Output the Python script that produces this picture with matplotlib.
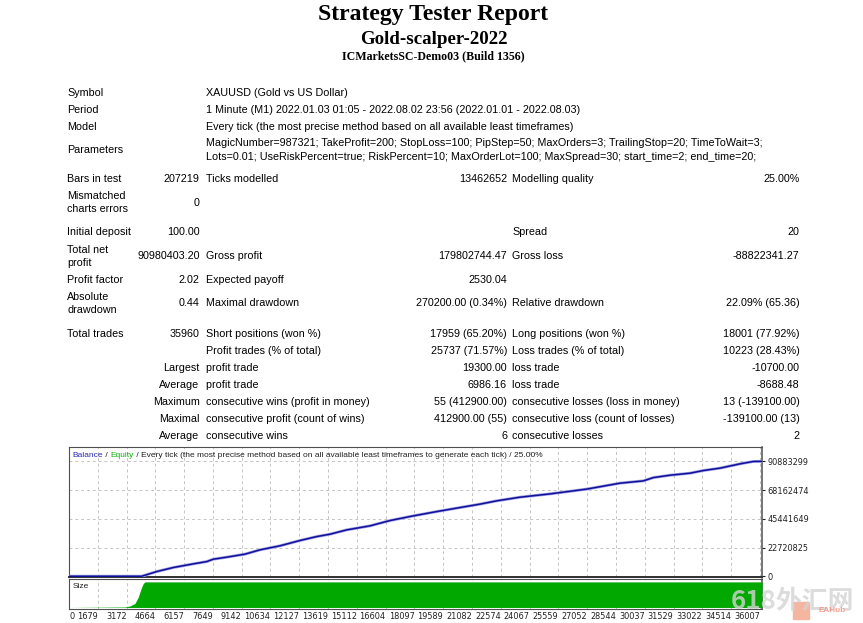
import matplotlib
matplotlib.use("Agg")
import matplotlib.pyplot as plt
from matplotlib.patches import FancyBboxPatch

W, H = 863, 623

# ---------------- data ----------------
title_lines = ["Strategy Tester Report", "Gold-scalper-2022", "ICMarketsSC-Demo03 (Build 1356)"]

info_labels = ["Symbol", "Period", "Model", "Parameters"]
info_values = [
    ["XAUUSD (Gold vs US Dollar)"],
    ["1 Minute (M1) 2022.01.03 01:05 - 2022.08.02 23:56 (2022.01.01 - 2022.08.03)"],
    ["Every tick (the most precise method based on all available least timeframes)"],
    ["MagicNumber=987321; TakeProfit=200; StopLoss=100; PipStep=50; MaxOrders=3; TrailingStop=20; TimeToWait=3;",
     "Lots=0.01; UseRiskPercent=true; RiskPercent=10; MaxOrderLot=100; MaxSpread=30; start_time=2; end_time=20;"],
]

# columns: first label, first value, second label, second value, third label, third value
stat_col0 = ["Bars in test", "Mismatched\ncharts errors", "Initial deposit", "Total net\nprofit",
             "Profit factor", "Absolute\ndrawdown", "Total trades", "", "Largest", "Average",
             "Maximum", "Maximal", "Average"]
stat_val0 = ["207219", "0", "100.00", "90980403.20", "2.02", "0.44", "35960", "", "", "", "", "", ""]
stat_col1 = ["Ticks modelled", "", "", "Gross profit", "Expected payoff", "Maximal drawdown",
             "Short positions (won %)", "Profit trades (% of total)", "profit trade", "profit trade",
             "consecutive wins (profit in money)", "consecutive profit (count of wins)", "consecutive wins"]
stat_val1 = ["13462652", "", "", "179802744.47", "2530.04", "270200.00 (0.34%)", "17959 (65.20%)",
             "25737 (71.57%)", "19300.00", "6986.16", "55 (412900.00)", "412900.00 (55)", "6"]
stat_col2 = ["Modelling quality", "", "Spread", "Gross loss", "", "Relative drawdown",
             "Long positions (won %)", "Loss trades (% of total)", "loss trade", "loss trade",
             "consecutive losses (loss in money)", "consecutive loss (count of losses)", "consecutive losses"]
stat_val2 = ["25.00%", "", "20", "-88822341.27", "", "22.09% (65.36)", "18001 (77.92%)",
             "10223 (28.43%)", "-10700.00", "-8688.48", "13 (-139100.00)", "-139100.00 (13)", "2"]
stat_rows_y = [179, 202.7, 232.5, 256.3, 280, 303.5, 334, 351, 368, 385, 402, 419, 436]

# balance curve (trade number, balance in millions)
balance_trades = [191, 3960, 4738, 5598, 6635, 7330, 7672, 8366, 9315, 10093,
                  11130, 12166, 13032, 13721, 14587, 15795, 16832, 18040, 19253, 20461,
                  21497, 22363, 23571, 25126, 27029, 28755, 29963, 30481, 31347, 32384,
                  33073, 33939, 34976, 35665, 36101]
balance_mln = [0.0001, 0.0001, 3.7, 6.9, 9.8, 11.6, 13.5, 15.1, 17.5, 20.9,
               24.1, 28.3, 31.4, 33.3, 36.7, 39.9, 44.1, 47.8, 51.2, 54.4,
               57.1, 59.7, 62.6, 65.2, 69.0, 73.7, 75.5, 78.1, 80.0, 81.6,
               83.7, 85.6, 89.0, 90.88, 90.98]

# position size (lots)
size_trades = [191, 3094, 3353, 3613, 3784, 3872, 3960, 4043, 4131, 36116]
size_lots = [0.01, 2, 6, 16, 41, 61, 80, 94, 100, 100]

y_ticks = [0, 22720825, 45441649, 68162474, 90883299]
y_tick_labels = ["0", "22720825", "45441649", "68162474", "90883299"]
x_ticks = [1679, 3172, 4664, 6157, 7649, 9142, 10634, 12127, 13619, 15112, 16604, 18097,
           19589, 21082, 22574, 24067, 25559, 27052, 28544, 30037, 31529, 33022, 34514, 36007]
x_tick_labels = [str(v) for v in x_ticks]

legend_parts = [("Balance", "#2a2ab8"), (" / ", "#202020"), ("Equity", "#10b010"),
                (" / Every tick (the most precise method based on all available least timeframes to generate each tick) / 25.00%", "#202020")]

watermark = "618外汇网"
watermark_small = "EAHub"

# ---------------- figure ----------------
fig = plt.figure(figsize=(W / 100, H / 100), dpi=100)
fig.patch.set_facecolor("white")
renderer = fig.canvas.get_renderer()


def fx(x):
    return x / W


def fy(y):
    return 1 - y / H


def fit_size(text, target_w, **kw):
    t = fig.text(0, 0, text, fontsize=10, **kw)
    w = t.get_window_extent(renderer=renderer).width
    t.remove()
    return 10 * target_w / w


SANS = "Liberation Sans"
SERIF = "Liberation Serif"
CJK = ["Noto Sans CJK SC", "DejaVu Sans"]
fs_tab = fit_size(info_values[2][0], 363, family=SANS)
fs_chart = fit_size("".join(p[0] for p in legend_parts), 470, family=SANS)
fs_ticks = fit_size("90883299", 36, family=SANS)
fs_t1 = fit_size(title_lines[0], 232, family=SERIF, weight="bold")
fs_t2 = fit_size(title_lines[1], 148, family=SERIF, weight="bold")
fs_t3 = fit_size(title_lines[2], 183, family=SERIF, weight="bold")
fs_wm = fit_size(watermark, 123, family=CJK, weight="bold")
fs_wm2 = fit_size(watermark_small, 27, family=SANS, weight="bold")

# titles
for s, yy, fs in zip(title_lines, [14.8, 39.5, 56.7], [fs_t1, fs_t2, fs_t3]):
    fig.text(fx(433.5), fy(yy), s, ha="center", va="center", family=SERIF,
             weight="bold", fontsize=fs, color="black")

TXT = "#000000"


def put(x, y, s, ha="left"):
    if not s:
        return
    lines = s.split("\n")
    for i, ln in enumerate(lines):
        yy = y + (i - (len(lines) - 1) / 2) * 13
        fig.text(fx(x), fy(yy), ln, ha=ha, va="center", family=SANS, fontsize=fs_tab, color=TXT)


X_LAB, X_V0, X_L1, X_V1, X_L2, X_V2 = 67.3, 199.5, 205.5, 507.0, 512.3, 799.3

info_y = [93.5, 110.3, 127.2, 150.3]
for lab, vals, yy in zip(info_labels, info_values, info_y):
    put(X_LAB, yy, lab)
    if len(vals) == 1:
        put(X_L1, yy, vals[0])
    else:
        put(X_L1, yy - 6.8, vals[0])
        put(X_L1, yy + 6.8, vals[1])

right_labels = {"Largest", "Average", "Maximum", "Maximal"}
for i, yy in enumerate(stat_rows_y):
    lab = stat_col0[i]
    if lab in right_labels:
        put(X_V0, yy, lab, ha="right")
    else:
        put(X_LAB, yy, lab)
    put(X_V0, yy, stat_val0[i], ha="right")
    put(X_L1, yy, stat_col1[i])
    put(X_V1, yy, stat_val1[i], ha="right")
    put(X_L2, yy, stat_col2[i])
    put(X_V2, yy, stat_val2[i], ha="right")

# ---------------- chart ----------------
X0, X1 = 69, 762
MAIN_T, MAIN_B = 447.3, 577.0
SIZE_T, SIZE_B = 578.8, 608.5
XMIN, XMAX = 191, 36116

ax = fig.add_axes([fx(X0), fy(MAIN_B), (X1 - X0) / W, (MAIN_B - MAIN_T) / H])
axs = fig.add_axes([fx(X0), fy(SIZE_B), (X1 - X0) / W, (SIZE_B - SIZE_T) / H])

grid_kw = dict(color="#c4c4c4", linestyle=(0, (3, 3)), linewidth=0.7)

bal = [v * 1e6 for v in balance_mln]
ax.plot(balance_trades, bal, color="#a0a0e4", lw=2.1, solid_capstyle="butt", zorder=3)
ax.plot(balance_trades, bal, color="#10109a", lw=1.1, zorder=4)
ax.set_xlim(XMIN, XMAX)
ax.set_ylim(-0.6e6, 102.1e6)
ax.set_xticks(x_ticks)
ax.set_xticklabels([])
ax.tick_params(axis="x", length=0)
ax.set_yticks(y_ticks)
ax.set_yticklabels(y_tick_labels)
ax.yaxis.tick_right()
ax.tick_params(axis="y", direction="out", length=2.2, width=0.8, pad=1.5,
               labelsize=fs_ticks, colors="#202020")
ax.grid(True, **grid_kw)
ax.set_axisbelow(True)
for side, sp in ax.spines.items():
    sp.set_color("#505050")
    sp.set_linewidth(0.8)
ax.spines["bottom"].set_linewidth(1.4)
ax.spines["bottom"].set_color("#303030")
ax.spines["right"].set_linewidth(1.1)

axs.fill_between(size_trades, 0, size_lots, color="#00a800", lw=0, zorder=3)
axs.set_xlim(XMIN, XMAX)
axs.set_ylim(-4, 112)
axs.set_yticks([])
axs.set_xticks([XMIN] + x_ticks)
axs.set_xticklabels(["0"] + x_tick_labels)
axs.tick_params(axis="x", length=0, pad=2.2, labelsize=fs_ticks, colors="#202020")
for lbl in axs.get_xticklabels():
    lbl.set_horizontalalignment("right")
axs.get_xticklabels()[0].set_horizontalalignment("left")
axs.grid(True, axis="x", **grid_kw)
axs.set_axisbelow(True)
for side, sp in axs.spines.items():
    sp.set_color("#505050")
    sp.set_linewidth(0.8)
axs.spines["right"].set_linewidth(1.1)

fig.text(fx(72.7), fy(586.5), "Size", ha="left", va="center", family=SANS,
         fontsize=fs_chart, color="#202020")

# legend line at top of main panel
xcur = 72.7
for s, c in legend_parts:
    t = fig.text(fx(xcur), fy(455.3), s, ha="left", va="center", family=SANS,
                 fontsize=fs_chart, color=c)
    w = t.get_window_extent(renderer=renderer).width
    xcur += w

# watermark
box = FancyBboxPatch((fx(794.5), fy(619)), 14 / W, 16 / H,
                     boxstyle="round,pad=0.002", transform=fig.transFigure,
                     facecolor="#f09878", edgecolor="none", alpha=0.7, zorder=9)
fig.patches.append(box)
fig.text(fx(792.3), fy(601.5), watermark, ha="center", va="center",
         family=CJK, fontsize=fs_wm, weight="bold",
         color="#d4d4d4", alpha=0.8, zorder=10)
fig.text(fx(818), fy(610), watermark_small, ha="left", va="center", family=SANS,
         fontsize=fs_wm2, weight="bold", color="#f08a78", alpha=0.8, zorder=11)

fig.savefig("out.png", dpi=100, facecolor="white")
